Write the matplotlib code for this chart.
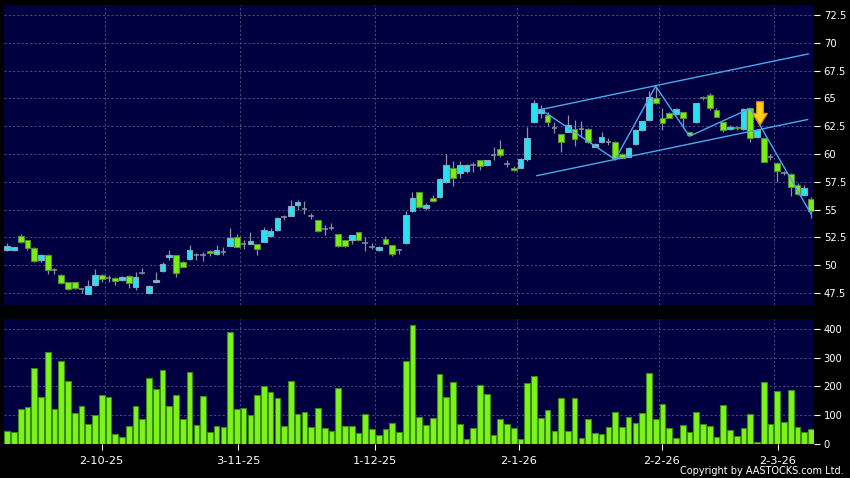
import matplotlib
matplotlib.use('Agg')
import matplotlib.pyplot as plt
import numpy as np

# ---------------- data ----------------
opens = [51.34, 51.34, 52.59, 52.23, 51.52, 50.45, 50.89, 49.58, 49.10, 48.48,
         48.48, 47.86, 47.44, 48.21, 49.10, 48.81, 48.81, 48.66, 49.05, 48.00,
         49.29, 47.50, 48.45, 49.52, 50.71, 50.89, 50.27, 50.54, 50.95, 50.89,
         51.31, 50.98, 51.19, 51.76, 52.56, 51.90, 51.93, 51.88, 52.11, 52.65,
         53.13, 54.33, 54.46, 55.39, 55.03, 54.43, 54.07, 53.26, 53.32, 52.78,
         52.27, 52.27, 52.96, 51.97, 51.67, 51.40, 52.36, 51.79, 51.34, 51.97,
         54.90, 56.56, 55.15, 56.02, 56.11, 57.46, 58.74, 58.26, 58.47, 59.04,
         59.43, 58.98, 59.88, 60.48, 59.13, 58.74, 58.74, 59.52, 62.85, 63.71,
         63.50, 62.37, 61.77, 62.00, 62.25, 62.25, 62.25, 60.66, 61.05, 61.10,
         61.10, 60.03, 59.73, 60.87, 62.16, 63.05, 65.00, 63.20, 63.70, 63.56,
         63.74, 61.95, 62.84, 65.15, 65.30, 64.00, 62.84, 62.25, 62.45, 62.24,
         64.10, 61.50, 61.40, 59.75, 59.23, 58.33, 58.24, 57.25, 56.35, 55.99]
highs = [51.96, 51.62, 52.77, 52.30, 51.60, 51.00, 50.98, 49.79, 49.20, 48.50,
         48.50, 47.90, 48.69, 49.70, 49.20, 49.14, 48.90, 49.00, 49.10, 49.40,
         49.79, 48.20, 49.37, 50.33, 51.37, 50.90, 50.40, 51.82, 51.07, 51.19,
         51.35, 51.82, 51.60, 53.33, 52.77, 52.26, 52.95, 51.90, 53.39, 53.36,
         54.30, 54.50, 55.84, 55.90, 55.77, 54.68, 54.10, 53.62, 53.77, 52.85,
         52.30, 52.70, 53.00, 52.51, 51.97, 51.70, 52.60, 51.80, 51.50, 54.89,
         56.57, 56.60, 55.60, 56.30, 57.80, 59.99, 59.36, 59.39, 59.10, 59.30,
         59.50, 59.50, 60.63, 61.26, 59.46, 58.90, 59.60, 62.39, 64.86, 64.38,
         63.80, 62.90, 61.80, 63.50, 63.05, 63.00, 62.30, 61.00, 62.00, 61.40,
         61.15, 60.10, 60.60, 62.25, 63.00, 65.70, 66.00, 64.10, 63.80, 64.10,
         63.80, 62.00, 64.60, 65.25, 65.50, 64.10, 62.90, 62.60, 62.50, 64.10,
         64.15, 62.20, 61.45, 60.00, 59.30, 58.50, 58.30, 57.40, 57.20, 56.10]
lows = [51.30, 51.30, 52.00, 51.34, 50.30, 50.27, 49.17, 49.17, 48.30, 47.75,
        47.90, 47.50, 47.40, 48.10, 48.50, 48.48, 48.24, 48.60, 47.95, 47.80,
        49.20, 47.45, 48.40, 49.43, 50.48, 48.93, 49.80, 50.50, 50.48, 50.42,
        50.80, 50.95, 50.95, 51.70, 51.60, 51.43, 51.90, 50.92, 52.10, 52.60,
        53.10, 54.05, 54.40, 54.96, 54.63, 54.17, 52.95, 52.72, 53.17, 51.65,
        51.60, 51.95, 52.20, 51.31, 51.43, 51.25, 51.90, 50.86, 51.04, 51.90,
        54.80, 55.10, 54.96, 55.70, 56.05, 57.40, 57.10, 57.80, 58.30, 58.40,
        58.55, 58.90, 59.50, 59.70, 58.80, 58.50, 58.70, 59.40, 62.80, 63.20,
        62.50, 61.85, 60.15, 62.00, 60.75, 61.55, 61.00, 60.60, 61.00, 60.80,
        59.45, 59.60, 59.70, 60.80, 62.10, 63.00, 64.50, 62.15, 63.20, 63.50,
        62.30, 61.60, 62.80, 64.90, 64.00, 63.30, 62.00, 62.20, 62.20, 62.20,
        61.10, 61.40, 59.25, 59.50, 57.50, 58.10, 56.20, 56.30, 56.30, 54.20]
closes = [51.70, 51.60, 52.11, 51.52, 50.39, 50.89, 49.55, 49.58, 48.36, 47.86,
          47.98, 47.86, 48.13, 49.10, 48.75, 48.81, 48.54, 48.90, 48.36, 48.96,
          49.29, 48.13, 48.69, 50.12, 50.89, 49.29, 49.88, 51.34, 50.95, 50.89,
          51.07, 51.34, 51.19, 52.41, 51.60, 51.90, 52.14, 51.49, 53.13, 53.04,
          54.20, 54.33, 55.32, 55.68, 55.03, 54.43, 53.05, 53.26, 53.32, 51.76,
          51.76, 52.69, 52.27, 51.97, 51.67, 51.64, 51.94, 51.04, 51.34, 54.51,
          56.00, 55.20, 55.42, 55.75, 57.73, 58.98, 57.82, 59.01, 59.01, 59.04,
          58.92, 59.43, 59.88, 59.88, 59.13, 58.56, 59.58, 61.44, 64.56, 64.01,
          62.90, 62.37, 61.05, 62.60, 61.35, 62.25, 61.05, 60.93, 61.56, 61.10,
          59.60, 59.67, 60.57, 62.20, 62.96, 65.10, 64.55, 62.80, 63.25, 64.04,
          63.20, 61.75, 64.55, 65.00, 64.10, 63.35, 62.20, 62.45, 62.30, 64.04,
          61.40, 62.15, 59.30, 59.75, 58.45, 58.33, 57.04, 56.44, 56.98, 54.85]
volumes = [43, 41, 122, 126, 264, 161, 319, 122, 290, 218,
           108, 132, 67, 98, 168, 161, 32, 21, 62, 132,
           84, 228, 192, 256, 132, 170, 85, 250, 64, 166,
           41, 61, 56, 391, 120, 124, 99, 170, 200, 181,
           159, 62, 220, 103, 111, 57, 123, 55, 43, 194,
           61, 62, 37, 102, 50, 29, 50, 70, 39, 289,
           415, 94, 64, 90, 243, 161, 215, 68, 14, 53,
           204, 172, 28, 85, 68, 54, 16, 211, 237, 88,
           116, 42, 159, 42, 159, 20, 85, 35, 33, 57,
           109, 56, 91, 73, 108, 248, 85, 137, 54, 19,
           65, 39, 109, 67, 61, 22, 136, 47, 25, 54,
           103, 4, 216, 69, 182, 76, 186, 57, 39, 50]

date_labels = ['2-10-25', '3-11-25', '1-12-25', '2-1-26', '2-2-26', '2-3-26']
date_tick_pos = [14.0, 34.2, 54.5, 75.7, 96.9, 114.1]
month_grid_pos = [14.5, 34.5, 54.5, 75.5, 96.5, 113.5]
price_ticks = [47.5, 50, 52.5, 55, 57.5, 60, 62.5, 65, 67.5, 70, 72.5]
vol_ticks = [0, 100, 200, 300, 400]

zigzag_idx = [79, 90, 96, 101, 110, 119]
zigzag_px = [64.0, 59.5, 66.1, 61.6, 64.1, 54.6]
upper_idx = [79, 118.6]
upper_px = [64.0, 69.0]
lower_idx = [78.4, 118.5]
lower_px = [58.05, 63.1]
arrow_idx = 111.45
arrow_from, arrow_to = 64.7, 62.6

# ---------------- styling ----------------
BG = '#000040'
GRID = '#4c4c80'
CYAN = '#22e4f4'
CYAN_EDGE = '#86a8b8'
GREEN = '#78ee14'
GREEN_EDGE = '#5a8e34'
WICK = '#8e8ea2'
VOL = '#7cf41c'
VOL_EDGE = '#3c8a10'
LINE = '#4aa8ec'
GRID_LS = (0, (2.2, 2.2))

W, H = 850, 478
fig = plt.figure(figsize=(W / 100, H / 100), dpi=100, facecolor='black')
ax = fig.add_axes([4 / W, 1 - 305 / H, 810 / W, 300 / H], facecolor=BG)
axv = fig.add_axes([4 / W, 1 - 443.5 / H, 810 / W, 124.5 / H], facecolor=BG)

x = np.arange(len(opens))
o = np.array(opens); h = np.array(highs); l = np.array(lows); c = np.array(closes)
up = c > o
dn = c < o
dj = c == o
bw = 0.84

ax.vlines(x, l, h, color=WICK, lw=0.9, zorder=3)
ax.bar(x[up], (c - o)[up], bottom=o[up], width=bw, color=CYAN,
       edgecolor=CYAN_EDGE, lw=0.8, zorder=4)
ax.bar(x[dn], (o - c)[dn], bottom=c[dn], width=bw, color=GREEN,
       edgecolor=GREEN_EDGE, lw=0.8, zorder=4)
ax.hlines(o[dj], x[dj] - bw / 2, x[dj] + bw / 2, color=WICK, lw=1.1, zorder=4)

ax.plot(zigzag_idx, zigzag_px, color=LINE, lw=1.0, zorder=5)
ax.plot(upper_idx, upper_px, color=LINE, lw=1.0, zorder=5)
ax.plot(lower_idx, lower_px, color=LINE, lw=1.0, zorder=5)
ax.annotate('', xy=(arrow_idx, arrow_to), xytext=(arrow_idx, arrow_from),
            arrowprops=dict(arrowstyle='simple,head_length=0.8,head_width=1.0,tail_width=0.47',
                            mutation_scale=10.5, fc='#ffd21a', ec='#e08a00', lw=0.9,
                            shrinkA=0, shrinkB=0), zorder=6)

axv.bar(x, volumes, width=bw, color=VOL, edgecolor=VOL_EDGE, lw=0.8, zorder=3)

xlim = (-0.474, 119.44)
for a in (ax, axv):
    a.set_xlim(*xlim)
    for s in a.spines.values():
        s.set_visible(False)
    a.yaxis.tick_right()
    a.grid(False)
    for g in month_grid_pos:
        a.axvline(g, color=GRID, lw=0.7, ls=GRID_LS, zorder=1)
    a.tick_params(axis='y', which='both', left=False, right=True, length=4,
                  color='white', labelcolor='white', labelsize=7.2, pad=3)

ax.set_ylim(46.42, 73.4)
ax.set_yticks(price_ticks)
ax.set_yticklabels([f'{t:g}' for t in price_ticks])
for t in price_ticks:
    ax.axhline(t, color=GRID, lw=0.7, ls=GRID_LS, zorder=1)
ax.set_xticks([])

axv.set_ylim(0, 435)
axv.set_yticks(vol_ticks)
axv.set_yticklabels([str(t) for t in vol_ticks])
for t in vol_ticks[1:]:
    axv.axhline(t, color=GRID, lw=0.7, ls=GRID_LS, zorder=1)
axv.set_xticks(date_tick_pos)
axv.set_xticklabels(date_labels)
axv.tick_params(axis='x', length=4, color='white', labelcolor='white',
                labelsize=8.2, pad=5)

fig.text(844 / W, 1 - 471 / H, 'Copyright by AASTOCKS.com Ltd.', color='white',
         fontsize=7, ha='right', va='center')

fig.savefig('out.png', dpi=100, facecolor='black')
